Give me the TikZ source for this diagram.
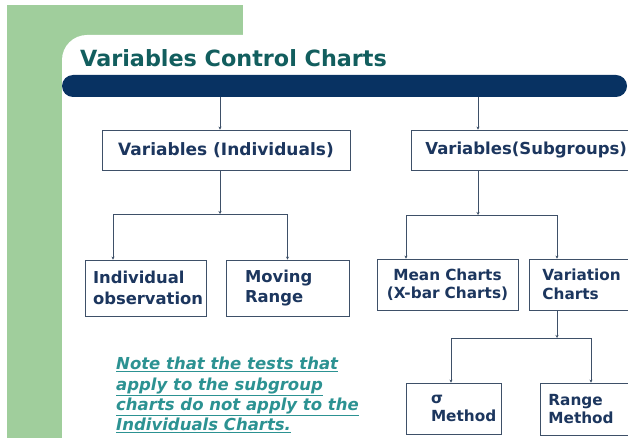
\documentclass[tikz,border=0pt]{standalone}
\usepackage{fontspec}
\setmainfont{DejaVu Sans}
\usetikzlibrary{arrows.meta,positioning}

\definecolor{leafgreen}{RGB}{160,206,156}
\definecolor{barnavy}{RGB}{8,50,98}
\definecolor{titleteal}{RGB}{18,94,94}
\definecolor{noteteal}{RGB}{44,146,146}
\definecolor{boxtext}{RGB}{28,54,94}
\definecolor{boxline}{RGB}{62,80,104}

\tikzset{
  chartbox/.style={draw=boxline, line width=0.8pt, text=boxtext, inner ysep=0pt,
    font=\bfseries\fontsize{16.4}{20.5}\selectfont},
  smallbox/.style={chartbox, font=\bfseries\fontsize{15.3}{18.5}\selectfont},
  conn/.style={draw=boxline, line width=0.8pt, -{Stealth[length=3pt,width=3pt]}},
}

\begin{document}
\begin{tikzpicture}[x=1pt,y=-1pt]

                \useasboundingbox (0,0) rectangle (628,438);
                \clip (0,0) rectangle (628,438);

                % background
                \fill[leafgreen] (7,5) rectangle (243,438);
                \fill[white] (62,440) -- (62,60) arc[start angle=180, end angle=270, radius=25] -- (640,35) -- (640,440) -- cycle;

                \node[fill=barnavy, rounded corners=11pt, minimum width=565pt, minimum height=22pt, inner sep=0pt] (bar) at (344.5,86) {};

                \node[anchor=base west, inner sep=0pt, text=titleteal, font=\bfseries\fontsize{22.3}{26}\selectfont] (title) at (80,67) {Variables Control Charts};

                % boxes
                \node[chartbox, minimum width=248pt, minimum height=40pt, font=\bfseries\fontsize{17}{20}\selectfont] (indiv) at (226,150) {\raisebox{-3pt}{Variables (Individuals)}};
                \node[chartbox, anchor=west, minimum height=40pt, inner xsep=14pt, text width=220pt, align=left, font=\bfseries\fontsize{16.5}{20}\selectfont] (sub) at (411,150) {\raisebox{-1pt}{Variables(Subgroups)}};

                \node[chartbox, minimum height=56pt, inner xsep=8pt, text width=105pt, align=left] (obs) at (145.5,288) {Individual\\observation};
                \node[chartbox, minimum height=56pt, inner xsep=19pt, text width=85pt, align=left] (mr) at (287.5,288) {Moving\\Range};

                \node[smallbox, minimum height=51pt, inner xsep=0pt, text width=141pt, align=center] (mean) at (447.5,284.5) {Mean Charts\\(X-bar Charts)};
                \node[smallbox, anchor=west, minimum height=51pt, inner xsep=13pt, text width=100pt, align=left] (var) at (529,284.5) {Variation\\Charts};

                \node[smallbox, minimum height=51pt, inner xsep=25pt, text width=45pt, align=left] (sigma) at (453.5,408.5) {σ\\Method};
                \node[smallbox, anchor=west, minimum height=52pt, inner xsep=8pt, text width=100pt, align=left] (range) at (540,409) {Range\\Method};

                % connectors
                \coordinate (isplit) at (220,214);
                \coordinate (ssplit) at (478,215);
                \coordinate (vsplit) at (557,338);

                \draw[conn] (bar.south -| isplit) -- ([xshift=-6pt]indiv.north);
                \draw[conn] (bar.south -| ssplit) -- ([xshift=67pt]sub.north west);

                \draw[conn] ([xshift=-6pt]indiv.south) -- (isplit);
                \draw[conn] (isplit) -| ([xshift=-32.5pt]obs.north);
                \draw[conn] (isplit) -| (mr.north);

                \draw[conn] ([xshift=67pt]sub.south west) -- (ssplit);
                \draw[conn] (ssplit) -| ([xshift=-41.5pt]mean.north);
                \draw[conn] (ssplit) -| ([xshift=28pt]var.north west);

                \draw[conn] ([xshift=28pt]var.south west) -- (vsplit);
                \draw[conn] (vsplit) -| ([xshift=-2.5pt]sigma.north);
                \draw[conn] (vsplit) -| ([xshift=51pt]range.north west);

                % note
                \node[anchor=north west, inner sep=0pt, align=left, text=noteteal,
                      font=\bfseries\itshape\fontsize{16.5}{20.3}\selectfont] (note) at (116,357)
                      {\underline{Note that the tests that}\\
                       \underline{apply to the subgroup}\\
                       \underline{charts do not apply to the}\\
                       \underline{Individuals Charts.}};

            \end{tikzpicture}
\end{document}
